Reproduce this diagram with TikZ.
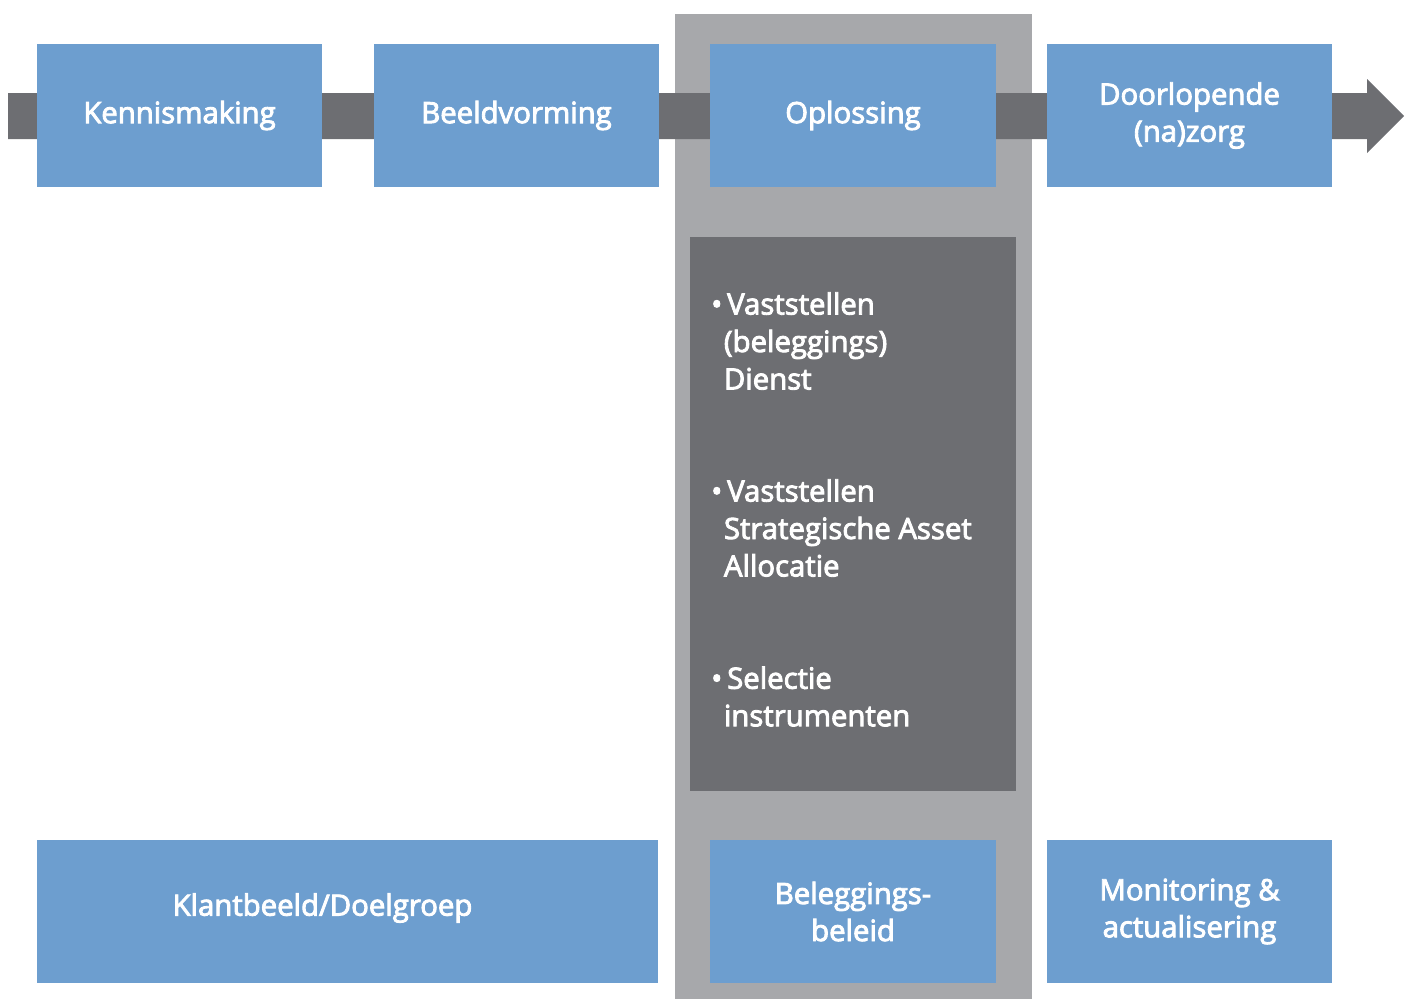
\documentclass[tikz,border=0pt]{standalone}
\usepackage{fontspec}
\setmainfont{Open Sans}
\newfontfamily\medfont{Open Sans}[FakeBold=3]
\definecolor{boxblue}{HTML}{6D9ECF}
\definecolor{bargray}{HTML}{6D6E72}
\definecolor{colgray}{HTML}{A7A8AB}
\tikzset{
  stage/.style={rectangle, fill=boxblue, text=white, inner sep=0pt,
    minimum width=214pt, minimum height=107.5pt, align=center,
    font=\medfont\fontsize{22}{27.8}\selectfont},
  darkbox/.style={rectangle, fill=bargray, inner sep=0pt},
  bullettext/.style={text=white, inner sep=0pt, align=left, anchor=west,
    font=\medfont\fontsize{22}{28.1}\selectfont}
}
\newcommand{\bulind}{\hspace*{9.5pt}}
\begin{document}
\begin{tikzpicture}[x=0.75pt,y=-0.75pt]
\useasboundingbox (0,0) rectangle (1408,999);
% column behind Oplossing
\fill[colgray] (675,14) rectangle (1032,999);
% process arrow
\coordinate (start) at (8,116);
\coordinate (tip) at (1404,116);
\fill[bargray] ([yshift=17.25pt]start) -- ([xshift=-27.75pt,yshift=17.25pt]tip)
  -- ([xshift=-27.75pt,yshift=27.75pt]tip) -- (tip)
  -- ([xshift=-27.75pt,yshift=-27.75pt]tip) -- ([xshift=-27.75pt,yshift=-17.25pt]tip)
  -- ([yshift=-17.25pt]start) -- cycle;
% top row
\node[stage] (k) at (179.5,115.5) {Kennismaking};
\node[stage] (b) at (516.5,115.5) {Beeldvorming};
\node[stage] (o) at (853,115.5) {Oplossing};
\node[stage] (d) at (1189.5,115.5) {Doorlopende\\(na)zorg};
% dark box
\node[darkbox, minimum width=244.5pt, minimum height=415.5pt] (dark) at (853,514) {};
\node[bullettext] (t1) at (711,341) {\textbullet\,Vaststellen\\\bulind(beleggings)\\\bulind Dienst};
\node[bullettext] (t2) at (711,528) {\textbullet\,Vaststellen\\\bulind Strategische Asset\\\bulind Allocatie};
\node[bullettext] (t3) at (711,696.5) {\textbullet\,Selectie\\\bulind instrumenten};
% bottom row
\node[stage, minimum width=465.75pt] (kl) at (347.5,911.5) {};
\node[text=white, inner sep=0pt, font=\medfont\fontsize{22}{27.8}\selectfont] (kllabel) at (322.5,908) {Klantbeeld/Doelgroep};
\node[stage] (bel) at (853,911.5) {Beleggings-\\beleid};
\node[stage] (mon) at (1189.5,911.5) {Monitoring \&\\actualisering};
\end{tikzpicture}
\end{document}
